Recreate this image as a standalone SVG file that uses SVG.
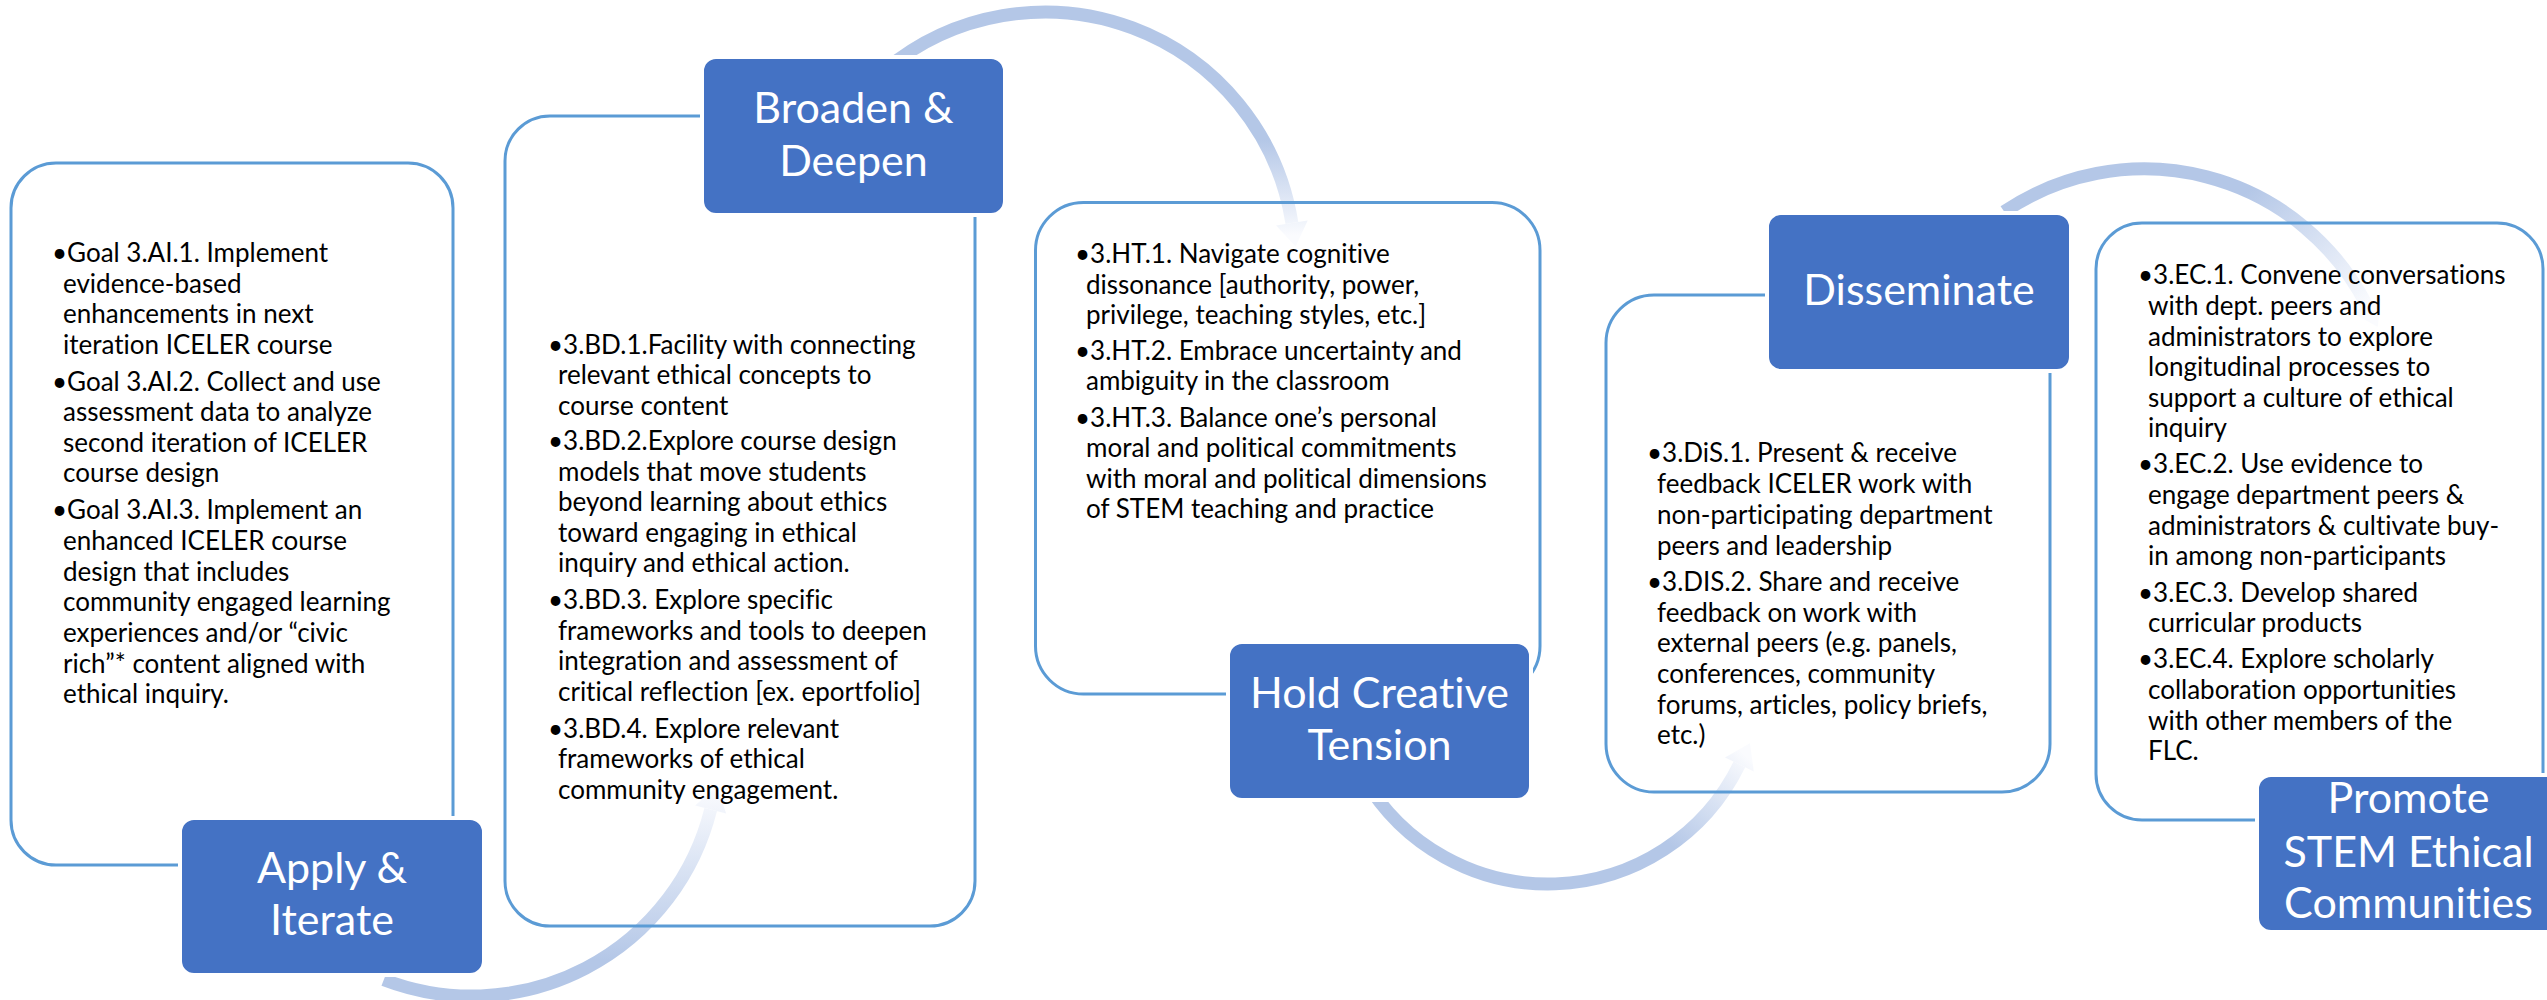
<svg xmlns="http://www.w3.org/2000/svg" width="2547" height="1000" viewBox="0 0 2547 1000">
<defs>
<style>
.outline{fill:none;stroke:#5B9BD5;stroke-width:3}
.tbox{fill:#4472C4;stroke:#fff;stroke-width:4}
.title{font-family:Lato,"Open Sans",sans-serif;font-size:43px;fill:#fff;text-anchor:middle;font-variant-ligatures:none}
.body{font-family:Lato,"Open Sans",sans-serif;font-size:26px;fill:#000;font-variant-ligatures:none}
.arc{fill:none;stroke-width:13}
</style>
<linearGradient id="g1" gradientUnits="userSpaceOnUse" x1="0" y1="960" x2="0" y2="790"><stop offset="0" stop-color="#B4C7E7"/><stop offset="1" stop-color="#FAFBFE"/></linearGradient>
<linearGradient id="g2" gradientUnits="userSpaceOnUse" x1="0" y1="140" x2="0" y2="235"><stop offset="0" stop-color="#B4C7E7"/><stop offset="1" stop-color="#FAFBFE"/></linearGradient>
<linearGradient id="g3" gradientUnits="userSpaceOnUse" x1="1670" y1="845" x2="1745" y2="755"><stop offset="0" stop-color="#B4C7E7"/><stop offset="1" stop-color="#FAFBFE"/></linearGradient>
<linearGradient id="g4" gradientUnits="userSpaceOnUse" x1="2255" y1="185" x2="2362" y2="310"><stop offset="0" stop-color="#B4C7E7"/><stop offset="1" stop-color="#FAFBFE"/></linearGradient>
</defs>
<rect x="0" y="0" width="2547" height="1000" fill="#fff"/>

<g id="connectors">
<g id="arc-apply-broaden">
<path class="arc" stroke="url(#g1)" d="M383.8,979.7 A246,246 0 0 0 710.7,809.5"/>
<polygon fill="url(#g1)" points="726.2,813.4 716.5,786.2 695.2,805.6"/>
</g>
<g id="arc-broaden-hold">
<path class="arc" stroke="url(#g2)" d="M884.3,70.5 A250,250 0 0 1 1291.9,222.9"/>
<polygon fill="url(#g2)" points="1307.7,220.4 1295.6,246.6 1276.1,225.4"/>
</g>
<g id="arc-hold-disseminate">
<path class="arc" stroke="url(#g3)" d="M1363.5,777.5 A213,213 0 0 0 1739.4,764.4"/>
<polygon fill="url(#g3)" points="1753.8,771.4 1749.9,743.2 1725,757.4"/>
</g>
<g id="arc-disseminate-promote">
<path class="arc" stroke="url(#g4)" d="M2004.2,211.7 A250,250 0 0 1 2366.8,305.5"/>
<polygon fill="url(#g4)" points="2381.1,298.2 2377.7,326.9 2352.5,312.8"/>
</g>
</g>

<g id="node-apply">
<rect class="outline" x="11" y="163" width="442" height="702" rx="45"/>
<text class="body">
<tspan x="52" y="262">•Goal 3.AI.1. Implement</tspan>
<tspan x="63" y="292.5">evidence-based</tspan>
<tspan x="63" y="323">enhancements in next</tspan>
<tspan x="63" y="354">iteration ICELER course</tspan>
<tspan x="52" y="390.5">•Goal 3.AI.2. Collect and use</tspan>
<tspan x="63" y="421">assessment data to analyze</tspan>
<tspan x="63" y="452">second iteration of ICELER</tspan>
<tspan x="63" y="482">course design</tspan>
<tspan x="52" y="519">•Goal 3.AI.3. Implement an</tspan>
<tspan x="63" y="550">enhanced ICELER course</tspan>
<tspan x="63" y="580.5">design that includes</tspan>
<tspan x="63" y="611">community engaged learning</tspan>
<tspan x="63" y="641.5">experiences and/or “civic</tspan>
<tspan x="63" y="672.5">rich”* content aligned with</tspan>
<tspan x="63" y="703">ethical inquiry.</tspan>
</text>
<rect class="tbox" x="180" y="818" width="304" height="157" rx="14"/>
<text class="title"><tspan x="332" y="883">Apply &amp;</tspan><tspan x="332" y="935">Iterate</tspan></text>
</g>

<g id="node-broaden">
<rect class="outline" x="505" y="116" width="470" height="810" rx="45"/>
<text class="body">
<tspan x="548" y="353.5">•3.BD.1.Facility with connecting</tspan>
<tspan x="558" y="384">relevant ethical concepts to</tspan>
<tspan x="558" y="414.5">course content</tspan>
<tspan x="548" y="450">•3.BD.2.Explore course design</tspan>
<tspan x="558" y="480.5">models that move students</tspan>
<tspan x="558" y="511">beyond learning about ethics</tspan>
<tspan x="558" y="541.5">toward engaging in ethical</tspan>
<tspan x="558" y="572">inquiry and ethical action.</tspan>
<tspan x="548" y="608.5">•3.BD.3. Explore specific</tspan>
<tspan x="558" y="639.5">frameworks and tools to deepen</tspan>
<tspan x="558" y="670">integration and assessment of</tspan>
<tspan x="558" y="701">critical reflection [ex. eportfolio]</tspan>
<tspan x="548" y="737.5">•3.BD.4. Explore relevant</tspan>
<tspan x="558" y="768">frameworks of ethical</tspan>
<tspan x="558" y="798.5">community engagement.</tspan>
</text>
<rect class="tbox" x="702" y="57" width="303" height="158" rx="14"/>
<text class="title"><tspan x="853.5" y="123">Broaden &amp;</tspan><tspan x="853.5" y="176">Deepen</tspan></text>
</g>

<g id="node-hold">
<rect class="outline" x="1035.5" y="202.5" width="504.5" height="491.5" rx="48"/>
<text class="body">
<tspan x="1075" y="263">•3.HT.1. Navigate cognitive</tspan>
<tspan x="1086" y="293.5">dissonance [authority, power,</tspan>
<tspan x="1086" y="324">privilege, teaching styles, etc.]</tspan>
<tspan x="1075" y="359.5">•3.HT.2. Embrace uncertainty and</tspan>
<tspan x="1086" y="390">ambiguity in the classroom</tspan>
<tspan x="1075" y="426.5">•3.HT.3. Balance one’s personal</tspan>
<tspan x="1086" y="457">moral and political commitments</tspan>
<tspan x="1086" y="487.5">with moral and political dimensions</tspan>
<tspan x="1086" y="518">of STEM teaching and practice</tspan>
</text>
<rect class="tbox" x="1228" y="642" width="303" height="158" rx="14"/>
<text class="title"><tspan x="1379.5" y="708">Hold Creative</tspan><tspan x="1379.5" y="760">Tension</tspan></text>
</g>

<g id="node-disseminate">
<rect class="outline" x="1606" y="295" width="444" height="497" rx="48"/>
<text class="body">
<tspan x="1647" y="462">•3.DiS.1. Present &amp; receive</tspan>
<tspan x="1657" y="493">feedback ICELER work with</tspan>
<tspan x="1657" y="523.5">non-participating department</tspan>
<tspan x="1657" y="554.5">peers and leadership</tspan>
<tspan x="1647" y="591">•3.DIS.2. Share and receive</tspan>
<tspan x="1657" y="621.5">feedback on work with</tspan>
<tspan x="1657" y="652">external peers (e.g. panels,</tspan>
<tspan x="1657" y="683">conferences, community</tspan>
<tspan x="1657" y="713.5">forums, articles, policy briefs,</tspan>
<tspan x="1657" y="744">etc.)</tspan>
</text>
<rect class="tbox" x="1767" y="213" width="304" height="158" rx="14"/>
<text class="title"><tspan x="1919" y="305">Disseminate</tspan></text>
</g>

<g id="node-promote">
<rect class="outline" x="2096" y="223" width="447" height="597" rx="46"/>
<text class="body">
<tspan x="2138" y="284">•3.EC.1. Convene conversations</tspan>
<tspan x="2148" y="315">with dept. peers and</tspan>
<tspan x="2148" y="345.5">administrators to explore</tspan>
<tspan x="2148" y="376">longitudinal processes to</tspan>
<tspan x="2148" y="406.5">support a culture of ethical</tspan>
<tspan x="2148" y="437">inquiry</tspan>
<tspan x="2138" y="473">•3.EC.2. Use evidence to</tspan>
<tspan x="2148" y="504">engage department peers &amp;</tspan>
<tspan x="2148" y="534.5">administrators &amp; cultivate buy-</tspan>
<tspan x="2148" y="565">in among non-participants</tspan>
<tspan x="2138" y="601.5">•3.EC.3. Develop shared</tspan>
<tspan x="2148" y="632">curricular products</tspan>
<tspan x="2138" y="668">•3.EC.4. Explore scholarly</tspan>
<tspan x="2148" y="699">collaboration opportunities</tspan>
<tspan x="2148" y="729.5">with other members of the</tspan>
<tspan x="2148" y="760">FLC.</tspan>
</text>
<rect class="tbox" x="2257" y="775" width="303" height="157" rx="14"/>
<text class="title"><tspan x="2408.5" y="813">Promote</tspan><tspan x="2408.5" y="866.5">STEM Ethical</tspan><tspan x="2408.5" y="918">Communities</tspan></text>
</g>
</svg>
